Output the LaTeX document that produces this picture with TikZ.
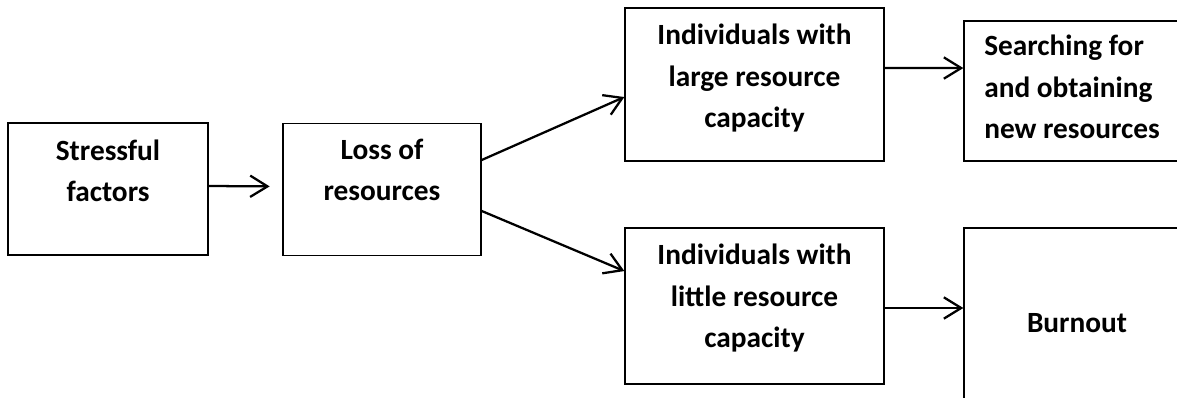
\documentclass[tikz,border=0pt]{standalone}
\usepackage{fontspec}
\setmainfont{Carlito}
\usetikzlibrary{arrows.meta}
\tikzset{
  box/.style={draw=black, line width=1pt, inner sep=0pt, rectangle},
  lbl/.style={inner sep=0pt, align=center, anchor=base, font=\fontsize{22}{31.2}\selectfont\bfseries},
  lbll/.style={inner sep=0pt, align=left, anchor=base west, font=\fontsize{22}{31.2}\selectfont\bfseries},
  arr/.style={line width=1.7pt, -{Straight Barb[length=13pt,width=16pt,line width=1.7pt]}},
}
\begin{document}
\begin{tikzpicture}[x=0.75pt,y=-0.75pt]
\clip (0,0) rectangle (1177,398);
\fill[white] (0,0) rectangle (1177,398);
% boxes
\node[box, minimum width={200*0.75pt}, minimum height={132*0.75pt}] (A) at (108,189) {};
\node[box, minimum width={198*0.75pt}, minimum height={132*0.75pt}] (B) at (382,189.5) {};
\node[box, minimum width={259*0.75pt}, minimum height={153*0.75pt}] (C) at (754.5,84.5) {};
\node[box, minimum width={259*0.75pt}, minimum height={156*0.75pt}] (D) at (754.5,306) {};
\node[box, minimum width={231*0.75pt}, minimum height={140*0.75pt}] (E) at (1079.5,91) {};
\node[box, minimum width={231*0.75pt}, minimum height={192*0.75pt}] (F) at (1079.5,324) {};
% labels (base anchor = baseline of the last line)
\node[lbl] (At) at (108,202) {Stressful\\factors};
\node[lbl] (Bt) at (382,201) {Loss of\\resources};
\node[lbl] (Ct) at (754.5,128) {Individuals with\\large resource\\capacity};
\node[lbl] (Dt) at (754.5,348) {Individuals with\\little resource\\capacity};
\node[lbll] (Et) at (984,139) {Searching for\\and obtaining\\new resources};
\node[lbl] (Ft) at (1077,333) {Burnout};
% connectors
\draw[arr, shorten >=9.5pt] ([yshift=2.25pt]A.east) -- ([yshift=2.25pt]B.west);
\draw[arr] ([yshift=22.1pt]B.east) -- ([yshift=-9.4pt]C.west);
\draw[arr] ([yshift=-16.1pt]B.east) -- ([yshift=26.2pt]D.west);
\draw[arr] ([yshift=12.4pt]C.east) -- ([yshift=17.2pt]E.west);
\draw[arr] ([yshift=-1.5pt]D.east) -- ([yshift=12pt]F.west);
\end{tikzpicture}
\end{document}
